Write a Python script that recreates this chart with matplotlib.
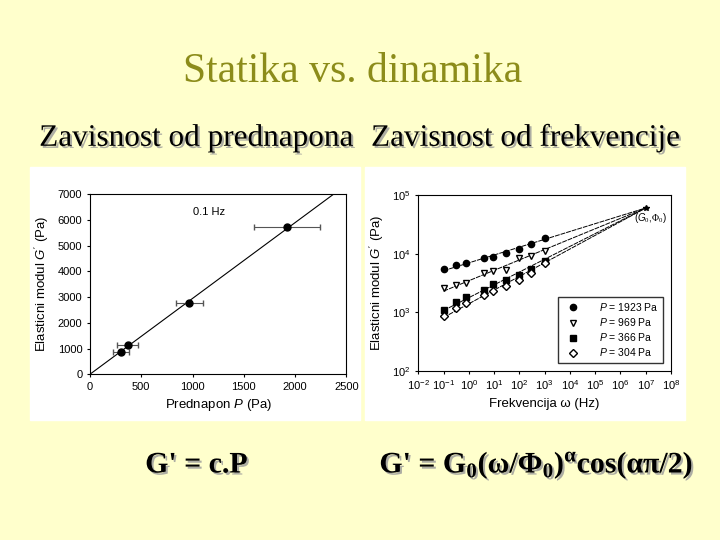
import numpy as np
import matplotlib
matplotlib.use("Agg")
import matplotlib.pyplot as plt
import matplotlib.patheffects as pe

# left chart data
P = [304, 366, 969, 1923]
G_left = [880, 1150, 2780, 5720]
P_err = [80, 100, 130, 320]
slope_left = 2.95

# right chart data
freq = [0.1, 0.3, 0.8, 4, 9, 30, 100, 300, 1000]
series_labels = ["1923", "969", "366", "304"]
G_1923 = [5.5e3, 6.3e3, 6.9e3, 8.3e3, 8.8e3, 1.02e4, 1.18e4, 1.45e4, 1.85e4]
G_969 = [2.6e3, 2.9e3, 3.1e3, 4.7e3, 5.0e3, 5.3e3, 8.4e3, 9.0e3, 1.1e4]
G_366 = [1.1e3, 1.5e3, 1.8e3, 2.4e3, 3.0e3, 3.6e3, 4.3e3, 5.5e3, 7.6e3]
G_304 = [0.85e3, 1.2e3, 1.45e3, 2.0e3, 2.3e3, 2.8e3, 3.5e3, 4.6e3, 6.9e3]
phi0, G0 = 1e7, 6e4

serif = "Liberation Serif"
plt.rcParams['font.family'] = ['Liberation Sans', 'DejaVu Sans']
plt.rcParams['mathtext.fontset'] = 'custom'
plt.rcParams['mathtext.rm'] = serif
plt.rcParams['mathtext.bf'] = serif + ":bold"
plt.rcParams['mathtext.it'] = 'Liberation Sans:italic'

bg = "#FFFFCC"
fig = plt.figure(figsize=(7.2, 5.4), dpi=100, facecolor=bg)
fig.text(0.49, 0.848, "Statika vs. dinamika", family=serif, fontsize=30, color="#8C8C1A", ha="center")
sh = [pe.withSimplePatchShadow(offset=(1.5, -1.5), shadow_rgbFace="#999999", alpha=0.8)]
fig.text(0.273, 0.73, "Zavisnost od prednapona", family=serif, fontsize=22.5, ha="center", path_effects=sh)
fig.text(0.73, 0.73, "Zavisnost od frekvencije", family=serif, fontsize=22.5, ha="center", path_effects=sh)
fig.text(0.273, 0.125, "G' = c.P", family=serif, fontsize=21.5, weight="bold", ha="center", path_effects=sh)
fig.text(0.745, 0.125, r"G' = G$_\mathbf{0}$(ω/Φ$_\mathbf{0}$)$^\mathbf{α}$cos(απ/2)", family=serif, fontsize=21.5,
         weight="bold", ha="center", path_effects=sh)

# white panels
fig.patches.append(plt.Rectangle((30/720, 120/540), 330/720, 253/540, transform=fig.transFigure, color="white", zorder=-5))
fig.patches.append(plt.Rectangle((365/720, 120/540), 320/720, 253/540, transform=fig.transFigure, color="white", zorder=-5))

fs = 8
lfs = 9.5
ax = fig.add_axes([0.125, 0.307, 0.356, 0.333], zorder=2)
x = np.array([0, 2500])
ax.plot(x, slope_left * x, color="black", lw=0.8)
ax.errorbar(P, G_left, xerr=P_err, fmt="o", color="black", ms=5, ecolor="#555555", elinewidth=0.8, capsize=2)
ax.set_xlim(0, 2500); ax.set_ylim(0, 7000)
ax.set_xticks(range(0, 2501, 500)); ax.set_yticks(range(0, 7001, 1000))
ax.tick_params(labelsize=fs, length=2)
ax.set_xlabel("Prednapon $P$ (Pa)", fontsize=lfs)
ax.set_ylabel("Elasticni modul $G'$ (Pa)", fontsize=lfs)
ax.text(1000, 6200, "0.1 Hz", fontsize=fs)

ax2 = fig.add_axes([0.581, 0.313, 0.351, 0.326], zorder=2)
ax2.set_xscale("log"); ax2.set_yscale("log")
markers = [("o", "black"), ("v", "white"), ("s", "black"), ("D", "white")]
lf = np.log10(freq)
for lab, G, (m, fc) in zip(series_labels, [G_1923, G_969, G_366, G_304], markers):
    lg = np.log10(G)
    dx = lf - np.log10(phi0)
    a = np.sum(dx * (lg - np.log10(G0))) / np.sum(dx * dx)
    xx = np.array([0.1, phi0])
    ax2.plot(xx, G0 * (xx / phi0) ** a, color="black", lw=0.7, ls=(0, (5, 1)))
    ax2.plot(freq, G, m, mfc=fc, mec="black", ms=4.5 if m != "D" else 3.8, ls="none",
             label=f"$P$ = {lab} Pa")
ax2.plot([phi0], [G0], "*", color="black", ms=4)
ax2.text(1.5e7, 3.6e4, r"($G_0$,$\Phi_0$)", fontsize=7, ha="center")
ax2.set_xlim(1e-2, 1e8); ax2.set_ylim(1e2, 1e5)
ax2.set_xticks([10.0**k for k in range(-2, 9)])
ax2.minorticks_off()
ax2.tick_params(labelsize=fs, length=2)
ax2.set_xlabel("Frekvencija ω (Hz)", fontsize=lfs)
ax2.set_ylabel("Elasticni modul $G'$ (Pa)", fontsize=lfs)
ax2.legend(loc="lower right", fontsize=7.5, frameon=True, fancybox=False, edgecolor="black", handletextpad=1.5,
           labelspacing=0.3, borderaxespad=0.8)

fig.savefig("out.png", dpi=100, facecolor=bg)
